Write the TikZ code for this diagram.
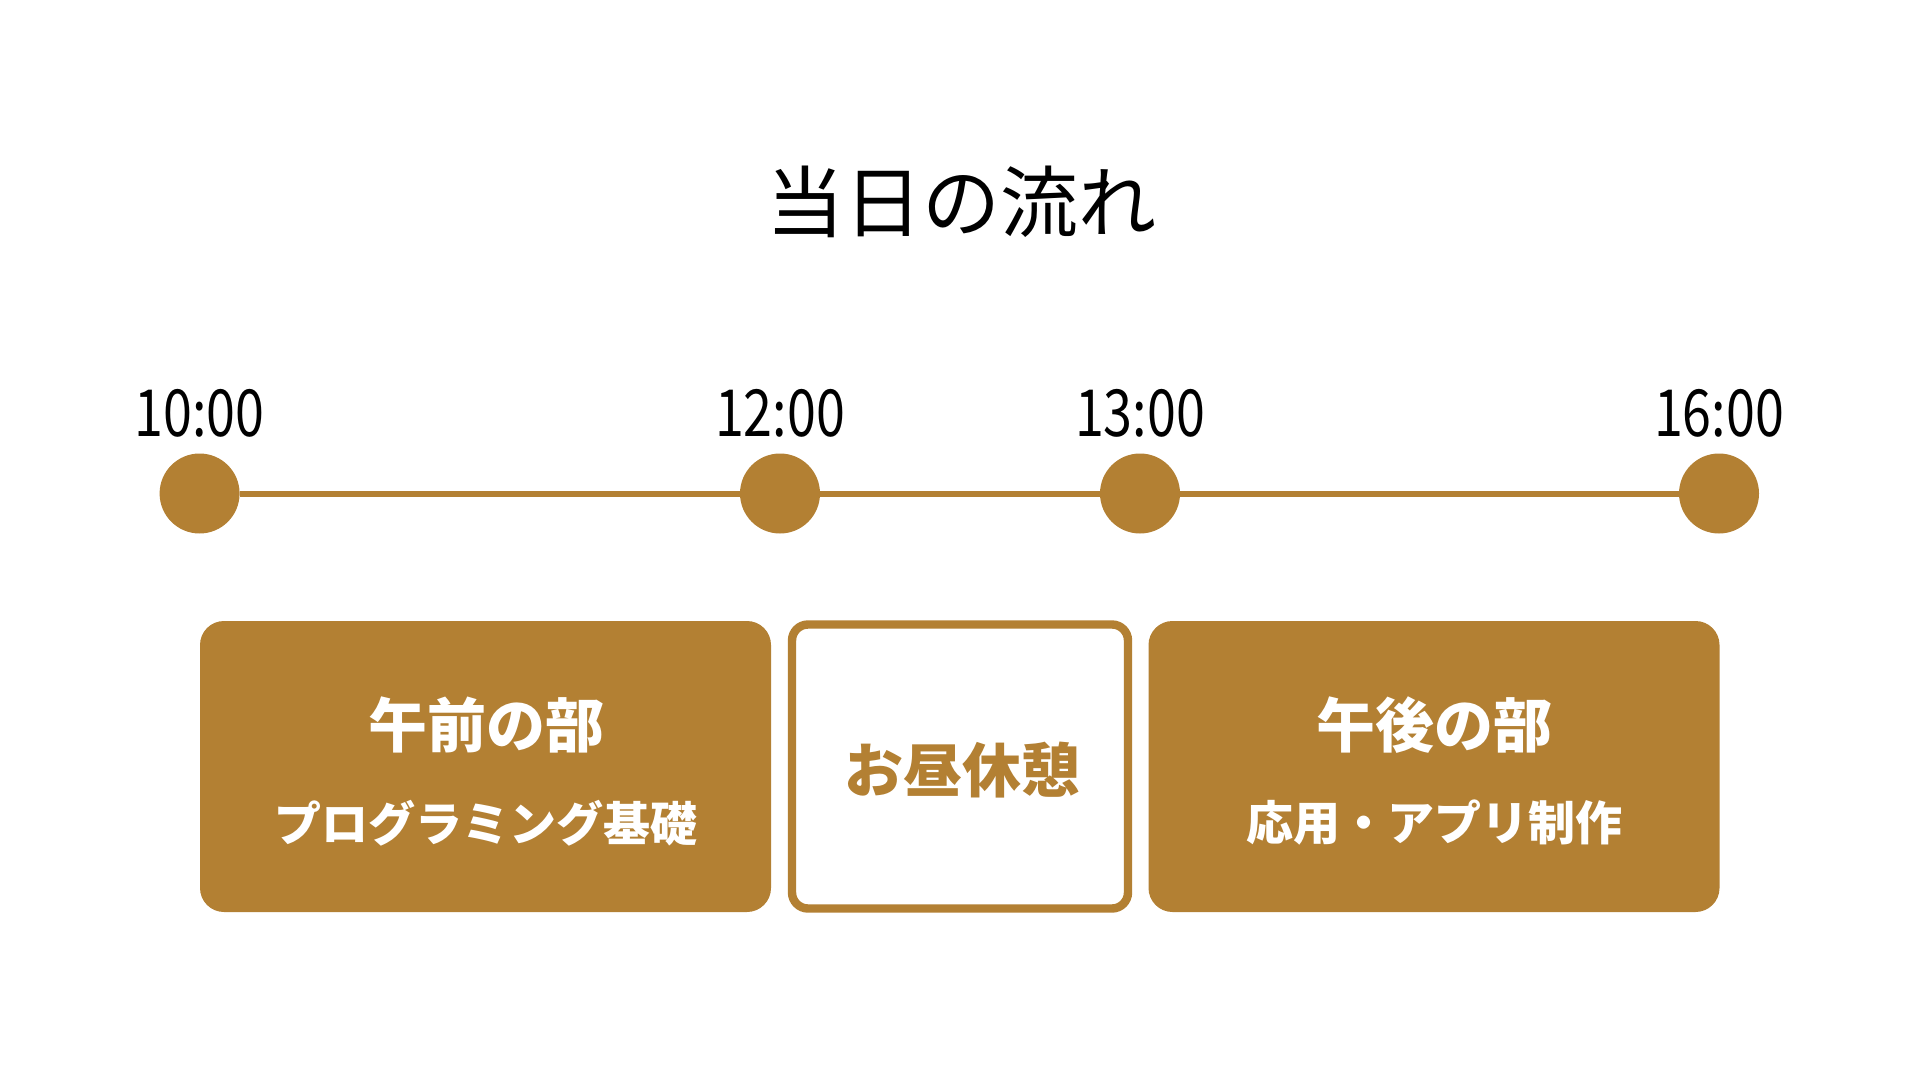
\documentclass[tikz,border=0pt]{standalone}
\usepackage{fontspec}
\setmainfont{Noto Sans CJK JP}
\newfontfamily\timefont[FakeStretch=0.8]{Noto Sans CJK JP}
\usepackage{xcolor}
\definecolor{gold}{RGB}{179,128,51}
\tikzset{
	dot/.style={circle, fill=gold, draw=none, inner sep=0pt, minimum size=40pt},
	timeline/.style={gold, line width=3pt},
	timelabel/.style={inner sep=0pt, font=\timefont\fontsize{32.5}{36}\selectfont},
	slotbox/.style={fill=gold, draw=none, rounded corners=12pt, inner sep=0pt,
			minimum width=285.5pt, minimum height=145.5pt},
	breakbox/.style={fill=white, draw=gold, line width=4.2pt, rounded corners=8pt,
			inner sep=0pt, minimum width=168pt, minimum height=142pt},
	slottitle/.style={white, inner sep=0pt, font=\bfseries\fontsize{29.5}{34}\selectfont},
	slotsub/.style={white, inner sep=0pt, font=\bfseries\fontsize{23.5}{28}\selectfont}
}

\begin{document}
\begin{tikzpicture}[x=0.5pt, y=-0.5pt]
		\useasboundingbox (0,0) rectangle (1920,1080);

		% Title
		\node[inner sep=0pt, font=\fontsize{39}{46}\selectfont] (title) at (961,202) {当日の流れ};

		% Time points
		\node[dot] (d10) at (199.6,493.5) {};
		\node[dot] (d12) at (780,493.5) {};
		\node[dot] (d13) at (1140,493.5) {};
		\node[dot] (d16) at (1719,493.5) {};
		\draw[timeline] (d10) -- (d12);
		\draw[timeline] (d12) -- (d13);
		\draw[timeline] (d13) -- (d16);

		\node[timelabel] (t10) at (199.6,413) {10:00};
		\node[timelabel] (t12) at (780,413) {12:00};
		\node[timelabel] (t13) at (1140,413) {13:00};
		\node[timelabel] (t16) at (1719,413) {16:00};

		% Sessions
		\node[slotbox] (am) at (485.5,766.5) {};
		\node[breakbox] (lunch) at (960,766.5) {};
		\node[slotbox] (pm) at (1434,766.5) {};

		\node[slottitle] (amtitle) at (486,725) {午前の部};
		\node[slotsub] (amsub) at (486,823) {プログラミング基礎};
		\node[slottitle, gold] (lunchtitle) at (962,770) {お昼休憩};
		\node[slottitle] (pmtitle) at (1434,725) {午後の部};
		\node[slotsub] (pmsub) at (1434,823) {応用・アプリ制作};
	\end{tikzpicture}
\end{document}
